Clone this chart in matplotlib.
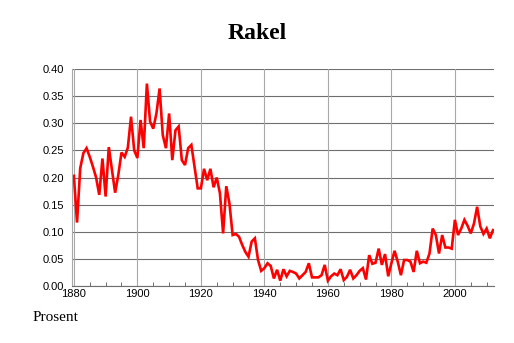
import numpy as np
import matplotlib
matplotlib.use("Agg")
import matplotlib.pyplot as plt
from matplotlib.ticker import MultipleLocator

years = list(range(1880, 2013))
share = [
    0.203, 0.117, 0.217, 0.245, 0.254, 0.238, 0.220, 0.200, 0.168, 0.235,
    0.165, 0.256, 0.214, 0.172, 0.205, 0.246, 0.238, 0.255, 0.312, 0.250,
    0.236, 0.306, 0.254, 0.373, 0.303, 0.290, 0.318, 0.364, 0.278, 0.254,
    0.318, 0.232, 0.287, 0.294, 0.232, 0.223, 0.254, 0.260, 0.220, 0.180,
    0.180, 0.216, 0.195, 0.216, 0.182, 0.200, 0.171, 0.097, 0.184, 0.152,
    0.094, 0.096, 0.091, 0.076, 0.063, 0.054, 0.082, 0.088, 0.048, 0.028,
    0.033, 0.042, 0.037, 0.014, 0.030, 0.010, 0.031, 0.018, 0.028, 0.026,
    0.023, 0.014, 0.020, 0.026, 0.042, 0.016, 0.016, 0.016, 0.020, 0.039,
    0.010, 0.018, 0.023, 0.020, 0.031, 0.011, 0.017, 0.030, 0.014, 0.020,
    0.028, 0.033, 0.012, 0.057, 0.041, 0.043, 0.069, 0.039, 0.059, 0.018,
    0.042, 0.065, 0.045, 0.020, 0.048, 0.048, 0.045, 0.026, 0.065, 0.042,
    0.045, 0.043, 0.060, 0.106, 0.094, 0.060, 0.094, 0.071, 0.071, 0.069,
    0.122, 0.094, 0.106, 0.122, 0.111, 0.097, 0.115, 0.146, 0.110, 0.096,
    0.106, 0.088, 0.103,
]
y_ticks = [0.0, 0.05, 0.10, 0.15, 0.20, 0.25, 0.30, 0.35, 0.40]
x_ticks = [1880, 1900, 1920, 1940, 1960, 1980, 2000]

fig = plt.figure(figsize=(5.14, 3.43), dpi=100)
ax = fig.add_axes([0.140, 0.166, 0.821, 0.633])

ax.plot(years, share, color="#ff0000", linewidth=1.9, solid_joinstyle="miter")

ax.set_xlim(1879.4, 2012.3)
ax.set_ylim(0, 0.40)
ax.set_yticks(y_ticks)
ax.set_yticklabels([f"{v:.2f}" for v in y_ticks])
ax.set_xticks(x_ticks)
ax.xaxis.set_minor_locator(MultipleLocator(5))

# grid drawn by hand: horizontal darker than vertical
for v in y_ticks:
    ax.axhline(v, color="#6e6e6e", linewidth=0.8, zorder=0)
for v in x_ticks:
    ax.axvline(v, color="#a8a8a8", linewidth=0.8, zorder=0)

for side in ("top", "right"):
    ax.spines[side].set_visible(False)
ax.spines["left"].set_color("#a8a8a8")
ax.spines["left"].set_linewidth(0.8)
ax.spines["bottom"].set_color("#6e6e6e")
ax.spines["bottom"].set_linewidth(0.8)

ax.tick_params(axis="y", length=0, pad=6, labelsize=8)
ax.tick_params(axis="x", which="major", length=0, pad=2, labelsize=8)
ax.tick_params(axis="x", which="minor", direction="in", length=3,
               color="#6e6e6e", width=0.7)
for lab in ax.get_xticklabels() + ax.get_yticklabels():
    lab.set_fontfamily("Liberation Sans")

fig.text(0.5, 0.903, "Rakel", ha="center", va="center",
         fontfamily="Liberation Serif", fontweight="bold", fontsize=17)
fig.text(0.064, 0.073, "Prosent", ha="left", va="center",
         fontfamily="Liberation Serif", fontsize=11)

fig.savefig("out.png", dpi=100)
